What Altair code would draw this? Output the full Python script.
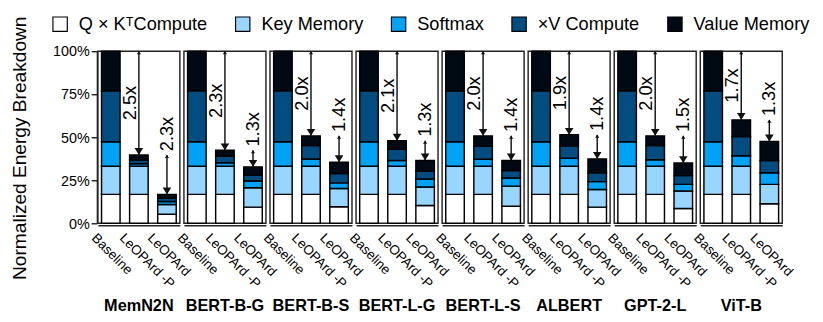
import altair as alt
import pandas as pd

FONT = "Liberation Sans"

groups = ["MemN2N", "BERT-B-G", "BERT-B-S", "BERT-L-G", "BERT-L-S", "ALBERT", "GPT-2-L", "ViT-B"]
configs = ["Baseline", "LeOPArd -P", "LeOPArd"]
segments = ["Q × KᵀCompute", "Key Memory", "Softmax", "×V Compute", "Value Memory"]
colors = ["#FFFFFF", "#99D6FF", "#00A2F5", "#034C80", "#010A14"]

# Baseline breakdown (same for every model), percent
baseline = [16.8, 16.3, 14.3, 29.6, 23.0]

# LeOPArd -P breakdown per model
qk_p = [16.8, 16.8, 16.8, 16.8, 16.8, 16.8, 16.8, 16.8]
key_p = [16.3, 16.3, 16.3, 16.3, 16.3, 16.3, 16.3, 16.3]
soft_p = [1.5, 2.1, 4.3, 3.4, 4.1, 4.7, 3.8, 6.2]
xv_p = [2.2, 3.8, 7.8, 6.5, 7.5, 7.2, 8.3, 11.1]
val_p = [2.9, 3.4, 5.6, 5.0, 6.1, 6.4, 5.6, 9.7]

# LeOPArd breakdown per model
qk_f = [5.3, 9.4, 9.6, 10.3, 9.9, 9.4, 8.6, 11.4]
key_f = [5.6, 11.3, 10.6, 10.8, 11.7, 10.2, 10.2, 11.2]
soft_f = [1.8, 3.9, 3.3, 4.6, 4.7, 4.6, 3.8, 6.8]
xv_f = [1.9, 3.4, 5.4, 4.7, 4.4, 5.2, 5.1, 7.1]
val_f = [2.2, 4.8, 6.6, 6.1, 5.8, 8.0, 7.3, 11.1]

# reduction annotations
speedup_p = ["2.5x", "2.3x", "2.0x", "2.1x", "2.0x", "1.9x", "2.0x", "1.7x"]
speedup_f = ["2.3x", "1.3x", "1.4x", "1.3x", "1.4x", "1.4x", "1.5x", "1.3x"]

rows = []
for gi, g in enumerate(groups):
    bars = {
        "Baseline": baseline,
        "LeOPArd -P": [qk_p[gi], key_p[gi], soft_p[gi], xv_p[gi], val_p[gi]],
        "LeOPArd": [qk_f[gi], key_f[gi], soft_f[gi], xv_f[gi], val_f[gi]],
    }
    for c in configs:
        for si, s in enumerate(segments):
            rows.append(dict(kind="bar", group=g, config=c, segment=s, seg_idx=si, value=bars[c][si]))
    tp = sum(bars["LeOPArd -P"])
    tf = sum(bars["LeOPArd"])
    rows.append(dict(kind="arrow1", group=g, config="LeOPArd -P", y0=100.0, y1=tp, mid=(100 + tp) / 2, label=speedup_p[gi]))
    rows.append(dict(kind="arrow2", group=g, config="LeOPArd", y0=tp, y1=tf, mid=tp, label=speedup_f[gi]))
df = pd.DataFrame(rows)

xenc = alt.X(
    "config:N", sort=configs, title=None,
    scale=alt.Scale(paddingInner=0.34, paddingOuter=0.13),
    axis=alt.Axis(labelAngle=45, labelAlign="left", labelBaseline="top", labelOffset=-13,
                  labelPadding=6, ticks=False, labelFontSize=14, domainColor="#222",
                  domainWidth=1.5),
)
yscale = alt.Scale(domain=[0, 100], nice=False)

bars = alt.Chart().transform_filter("datum.kind == 'bar'").mark_bar(
    stroke="black", strokeWidth=1.5
).encode(
    x=xenc,
    y=alt.Y("value:Q", stack="zero", scale=yscale,
            axis=alt.Axis(title="Normalized Energy Breakdown", values=[0, 25, 50, 75, 100],
                          labelExpr="datum.value + '%'", grid=False, tickSize=6,
                          labelFontSize=15, titleFontSize=20, titleFontWeight="normal",
                          titlePadding=24, titleY=101, domainColor="#222", domainWidth=1.5,
                          tickColor="#222", tickWidth=1.5)),
    color=alt.Color("segment:N", scale=alt.Scale(domain=segments, range=colors),
                    legend=alt.Legend(title=None, orient="none", legendX=-49, legendY=-38,
                                      direction="horizontal", symbolType="square",
                                      symbolSize=225, symbolStrokeColor="black",
                                      symbolStrokeWidth=1.2, labelFontSize=19,
                                      columnPadding=26, labelOffset=10, labelLimit=300)),
    order=alt.Order("seg_idx:Q", sort="ascending"),
)

arrows = alt.Chart().transform_filter("datum.kind != 'bar'")

rules = arrows.mark_rule(color="#111", strokeWidth=1.5).encode(
    x=xenc, y=alt.Y("y0:Q", scale=yscale), y2="y1:Q"
)
heads = arrows.mark_point(shape="M -1 -1.6 L 1 -1.6 L 0 0 Z", filled=True, size=81,
                          color="#111", opacity=1).encode(
    x=xenc, y=alt.Y("y1:Q", scale=yscale)
)
tails = arrows.mark_point(shape="M -1 1.4 L 1 1.4 L 0 0 Z", filled=True, size=20,
                          color="#111", opacity=1).encode(
    x=xenc, y=alt.Y("y0:Q", scale=yscale)
)
text1 = alt.Chart().transform_filter("datum.kind == 'arrow1'").mark_text(
    angle=270, align="center", baseline="alphabetic", dy=-3, fontSize=19, font=FONT, color="black"
).encode(x=xenc, y=alt.Y("mid:Q", scale=yscale), text="label:N")
text2 = alt.Chart().transform_filter("datum.kind == 'arrow2'").mark_text(
    angle=270, align="left", baseline="middle", dx=4, fontSize=19, font=FONT, color="black"
).encode(x=xenc, y=alt.Y("mid:Q", scale=yscale), text="label:N")

layer = alt.layer(bars, rules, heads, tails, text1, text2).properties(width=85.75, height=180)

chart = layer.facet(
    column=alt.Column("group:N", sort=groups, title=None,
                      header=alt.Header(labelOrient="bottom", labelFontSize=17,
                                        labelFontWeight="bold", labelFont=FONT,
                                        labelColor="black", labelPadding=8)),
    data=df, spacing=2,
).properties(
    padding={"left": 2, "top": 0, "right": 5, "bottom": 0}
).configure_view(
    stroke="#222", strokeWidth=1.5
).configure_axis(
    labelFont=FONT, titleFont=FONT, labelColor="black", titleColor="black"
).configure_legend(
    labelFont=FONT, labelColor="black"
)

chart.save("out.html", embed_options={"renderer": "svg", "actions": False})
